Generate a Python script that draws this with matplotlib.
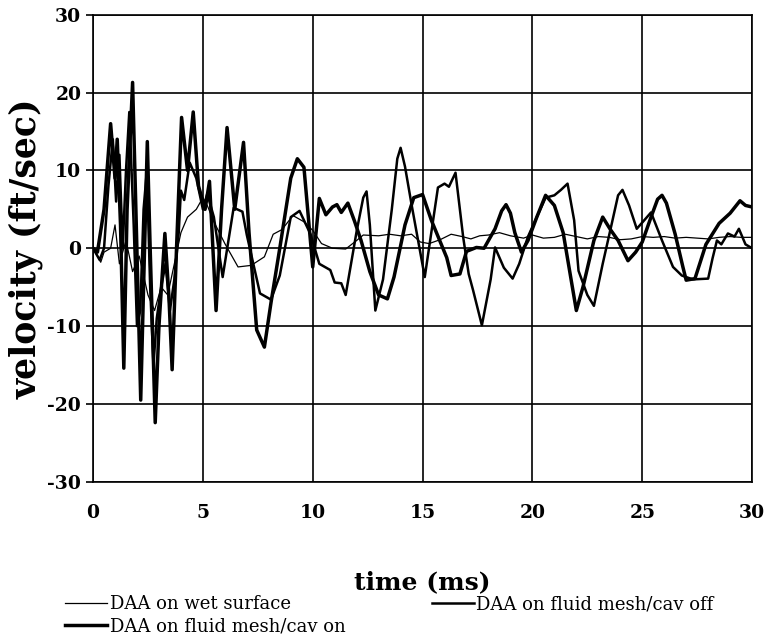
import numpy as np
import matplotlib
matplotlib.use('Agg')
import matplotlib.pyplot as plt

# DAA on wet surface (thin line)
t_wet = [0, 0.2, 0.35, 0.5, 0.8, 1.0, 1.2, 1.5, 1.8, 2.1, 2.5, 2.8, 3.1, 3.4, 3.7, 4.0, 4.3, 4.7,
         5.0, 5.2, 5.5, 6.0, 6.6, 7.2, 7.8, 8.2, 8.6, 9.1, 9.6, 10.0, 10.4, 10.9, 11.5, 12.0, 12.3,
         13.0, 13.5, 14.0, 14.5, 14.9, 15.3, 15.8, 16.3, 16.8, 17.2, 17.6, 18.0, 18.5, 19.0, 19.6,
         20.0, 20.5, 21.0, 21.5, 22.0, 22.5, 23.0, 23.5, 24.0, 24.5, 25.0, 25.5, 26.0, 26.5, 27.0,
         27.5, 28.0, 28.5, 29.0, 29.5, 30.0]
v_wet = [0, -1, -1.8, -0.5, 0, 3, -2, 1, -3, -1, -6, -8, -5, -6, -2, 2, 4, 5,
         6.5, 5.5, 3.4, 0.6, -2.4, -2.2, -1.1, 1.8, 2.4, 4.2, 3.4, 2.3, 0.6, 0, -0.1, 1, 1.7,
         1.6, 1.8, 1.6, 1.8, 0.8, 0.6, 1.1, 1.8, 1.5, 1.2, 1.6, 1.7, 2, 1.6, 1.3,
         1.7, 1.3, 1.4, 1.8, 1.5, 1.2, 1.5, 1.4, 1.1, 1.2, 1.5, 1.4, 1.5, 1.3, 1.4,
         1.3, 1.2, 1.4, 1.5, 1.4, 1.4]

# DAA on fluid mesh/cav off (medium line)
t_off = [0, 0.3, 0.5, 0.7, 0.9, 1.05, 1.2, 1.35, 1.5, 1.65, 1.85, 2.0, 2.15, 2.3, 2.45, 2.6, 2.75,
         2.9, 3.1, 3.3, 3.5, 3.7, 3.9, 4.0, 4.15, 4.4, 4.7, 5.0, 5.2, 5.5, 5.9, 6.4, 6.8, 7.0, 7.6,
         8.1, 8.5, 9.0, 9.4, 9.9, 10.3, 10.8, 11.0, 11.3, 11.5, 12.0, 12.3, 12.45, 12.6, 12.85, 13.2,
         13.6, 13.85, 14.0, 14.2, 14.5, 15.1, 15.7, 16.0, 16.2, 16.5, 16.85, 17.1, 17.3, 17.7, 18.1,
         18.3, 18.7, 19.1, 19.4, 19.8, 20.2, 20.6, 21.0, 21.3, 21.6, 21.9, 22.1, 22.5, 22.8, 23.2,
         23.6, 23.9, 24.1, 24.4, 24.75, 25.0, 25.4, 25.9, 26.4, 26.8, 27.3, 28.0, 28.2, 28.4, 28.6,
         28.9, 29.2, 29.4, 29.7, 30.0]
v_off = [0, -1.5, 0, 8, 14, 6, 12, 0, 10, 17.5, 3, -10, -8, 5, 10, -5, -15,
         -9, -5, -2, -8, -4, 2, 7.4, 6.2, 11, 9, 5, 7, 4, -3.7, 5.2, 4.7, 1.7, -5.8,
         -6.6, -3.5, 4, 4.8, 1.8, -2, -2.8, -4.4, -4.5, -6, 2.2, 6.5, 7.3, 3, -8, -4,
         5, 11.5, 12.9, 10.5, 5.6, -3.7, 7.8, 8.3, 7.9, 9.7, 1.4, -3.3, -5.4, -9.9, -4,
         0.1, -2.5, -3.9, -2, 1.5, 4, 6.5, 6.8, 7.5, 8.3, 3.6, -2.9, -6, -7.4, -2,
         3, 6.8, 7.5, 5.5, 2.5, 3.3, 4.6, 1, -2.4, -3.5, -4, -3.9, -1.3, 1, 0.5,
         1.9, 1.5, 2.5, 0.5, 0]

# DAA on fluid mesh/cav on (thick line)
t_on = [0, 0.2, 0.5, 0.8, 1.0, 1.1, 1.25, 1.4, 1.55, 1.8, 1.95, 2.17, 2.3, 2.47, 2.6, 2.83, 3.0,
        3.27, 3.45, 3.6, 3.8, 4.03, 4.3, 4.56, 4.8, 5.1, 5.3, 5.6, 5.85, 6.1, 6.45, 6.85, 7.1, 7.45,
        7.8, 8.1, 8.5, 9.0, 9.3, 9.6, 10.0, 10.3, 10.6, 10.9, 11.1, 11.3, 11.6, 11.9, 12.2, 12.6,
        13.0, 13.4, 13.7, 14.2, 14.6, 15.0, 15.4, 16.1, 16.3, 16.7, 17.0, 17.45, 17.8, 18.3, 18.6,
        18.8, 19.0, 19.2, 19.5, 19.8, 20.2, 20.6, 21.0, 21.4, 21.7, 22.0, 22.3, 22.8, 23.2, 23.55,
        23.9, 24.35, 24.7, 25.0, 25.4, 25.7, 25.9, 26.1, 26.5, 26.85, 27.0, 27.4, 27.9, 28.5, 29.0,
        29.45, 29.7, 30.0]
v_on = [0, -0.5, 5, 16, 9, 14, 3, -15.4, 5, 21.3, 5, -19.5, -5, 13.7, 0, -22.4, -10,
        1.9, -6, -15.6, 0, 16.8, 10, 17.5, 8, 5, 8.6, -8, 5, 15.5, 5, 13.6, 2, -10.5,
        -12.7, -7, 0, 9, 11.5, 10.4, -2.4, 6.4, 4.3, 5.3, 5.6, 4.6, 5.8, 3.5, 1, -3,
        -6, -6.5, -3.7, 3, 6.5, 6.9, 3.6, -1.2, -3.5, -3.3, -0.4, 0.1, 0, 2.5, 4.8,
        5.6, 4.5, 2, -0.5, 1, 4, 6.8, 5.5, 2, -3, -8, -5, 1, 4, 2.4,
        1, -1.6, -0.5, 0.8, 4, 6.3, 6.8, 5.8, 1.8, -2.4, -4.1, -3.9, 0.5, 3.2, 4.5,
        6.1, 5.5, 5.3]

plt.rcParams['font.family'] = 'DejaVu Serif'
plt.rcParams['axes.unicode_minus'] = False
fig = plt.figure(figsize=(7.69, 6.39), dpi=100)
ax = fig.add_axes([0.121, 0.246, 0.857, 0.731])

l_wet, = ax.plot(t_wet, v_wet, color='black', lw=0.9, solid_joinstyle='round',
                 label='DAA on wet surface')
l_off, = ax.plot(t_off, v_off, color='black', lw=1.8, solid_joinstyle='round',
                 label='DAA on fluid mesh/cav off')
l_on, = ax.plot(t_on, v_on, color='black', lw=2.5, solid_joinstyle='round',
                label='DAA on fluid mesh/cav on')

ax.set_xlim(0, 30)
ax.set_ylim(-30, 30)
ax.set_xticks(np.arange(0, 31, 5))
ax.set_yticks(np.arange(-30, 31, 10))
ax.grid(True, color='black', lw=1.2)
ax.set_axisbelow(True)
for s in ax.spines.values():
    s.set_linewidth(1.2)
ax.tick_params(axis='y', direction='out', length=5, width=1.2, labelsize=13.5)
ax.tick_params(axis='x', length=0, pad=16, labelsize=13.5)
for lab in ax.get_xticklabels() + ax.get_yticklabels():
    lab.set_fontweight('bold')

ax.set_xlabel('time (ms)', fontsize=18, fontweight='bold', labelpad=35)
ax.set_ylabel('velocity (ft/sec)', fontsize=25, fontweight='bold', labelpad=3)

# legend filled column-wise, so reorder to read row-wise like the original
fig.legend([l_wet, l_on, l_off], [l_wet.get_label(), l_on.get_label(), l_off.get_label()],
           loc='lower left', bbox_to_anchor=(0.064, -0.02), ncol=2, frameon=False,
           handlelength=2.3, handletextpad=0.15, columnspacing=4.8, labelspacing=0.25,
           prop={'family': 'DejaVu Serif', 'size': 13})

fig.savefig('out.png', dpi=100)
